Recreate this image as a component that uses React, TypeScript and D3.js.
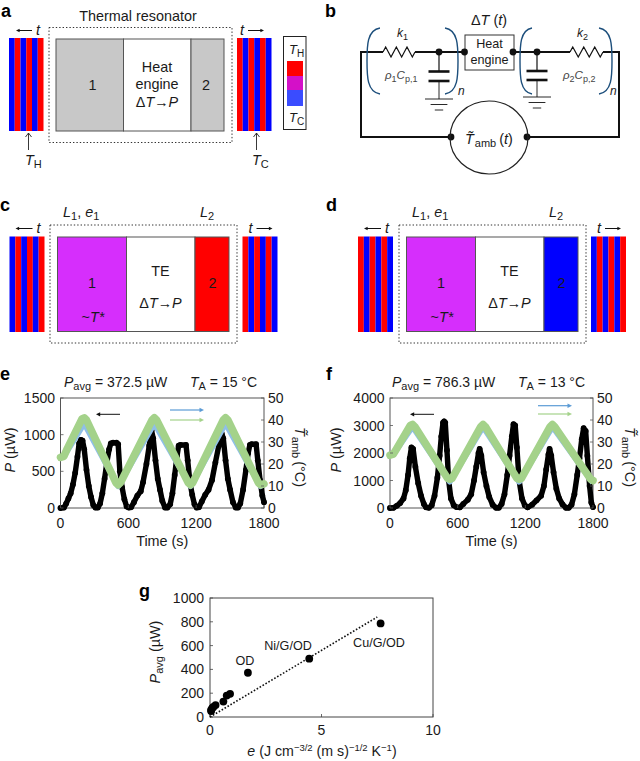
import React from "react";
import * as d3 from "d3";

const FONT = "'Liberation Sans', Arial, sans-serif";
const RED = "#ff0000", BLUE = "#0000ff", MAG = "#d62efc", GREEN = "#a4d28a", SKY = "#8fbfe8", NAVY = "#1d4f7c";

// Panel e
const eTime = [0,30,50,70,90,110,130,150,165,180,195,210,230,250,270,290,310,330,350,370,390,410,430,445,465,495,510,525,545,565,585,605,625,650,680,710,730,760,785,805,820,840,860,880,900,925,945,970,990,1010,1030,1045,1060,1110,1125,1145,1165,1185,1205,1225,1250,1280,1310,1340,1370,1400,1425,1440,1460,1480,1500,1525,1550,1570,1590,1615,1640,1660,1675,1690,1730,1745,1765,1785,1800];
const ePower = [0,5,60,130,200,320,480,700,880,930,920,800,520,300,150,40,5,5,60,200,400,620,800,880,890,890,870,500,280,120,20,5,10,80,170,230,350,600,850,1060,950,650,400,250,100,5,5,50,200,450,700,850,860,860,650,350,180,50,5,10,90,180,250,380,620,850,1020,950,650,400,250,80,5,5,60,250,520,750,860,870,870,650,380,170,80];
const eGreenT = [0,30,60,190,210,230,490,510,530,810,830,850,1130,1150,1170,1440,1460,1480,1750,1770,1800];
const eGreenV = [23,23.5,27,40.5,41,40,11.5,10.5,11.5,40,41,40,11.5,10.5,11.5,40,41,40,11.5,10.5,11];
const eBlueT = [0,30,210,510,830,1150,1460,1770,1800];
const eBlueV = [23,23.5,38.5,10,38.5,10,38.5,10,11];

// Panel f
const fTime = [0,30,60,90,120,140,160,175,190,205,225,250,275,300,320,345,370,395,420,440,455,470,480,490,505,520,540,565,590,620,650,690,720,745,765,785,795,810,830,855,880,910,940,965,990,1015,1040,1060,1080,1095,1110,1125,1145,1170,1195,1220,1260,1300,1340,1365,1385,1405,1415,1430,1450,1475,1500,1530,1560,1585,1610,1635,1660,1680,1700,1717,1735,1750,1770,1785,1800];
const fPower = [0,5,80,180,350,650,1200,1800,2200,2150,1500,900,450,150,20,5,100,450,1100,1900,2600,3100,3150,3100,2100,1000,350,100,30,20,150,300,500,1000,1500,2000,2150,1900,1300,800,400,120,10,10,150,500,1200,1900,2600,3050,3000,2200,1000,350,100,20,120,280,450,800,1400,1950,2150,1900,1300,700,350,130,10,10,120,500,1200,1800,2500,2900,2800,1900,800,200,30];
const fGreenT = [0,30,60,180,200,220,510,530,550,805,825,845,1125,1145,1165,1420,1440,1460,1780,1800];
const fGreenV = [24,24.5,27,37.5,38,37,13.5,13,13.5,37,38,37,13.5,13,13.5,37,38,37,13,12.5];
const fBlueT = [0,30,200,530,825,1145,1440,1800];
const fBlueV = [24,24.5,37,12,37,12,37,11.5];

// Panel g
const gE = [0.05,0.05,0.1,0.15,0.25,0.6,0.75,0.9,1.7,4.45,7.65];
const gP = [50,60,75,85,100,130,180,195,372,490,786];
const gFitE = [0,7.5];
const gFitP = [0,840];
const timeTicks = [0,600,1200,1800];
const eLeftTicks = [0,500,1000,1500];
const fLeftTicks = [0,1000,2000,3000,4000];
const rightTicks = [0,10,20,30,40,50];
const gXTicks = [0,5,10];
const gYTicks = [0,200,400,600,800,1000];

const T = (p: any) => <text fontFamily={FONT} fontSize={14.4} fill="#1a1a1a" {...p} />;
const Letter = ({ x, y, c }: any) => <text x={x} y={y} fontFamily={FONT} fontSize={18} fontWeight="bold" fill="#000">{c}</text>;

function Stripes({ x, y, w, h, first }: any) {
  const s = d3.scaleBand<number>().domain(d3.range(6)).range([x, x + w]);
  const a = first === "red" ? [RED, BLUE] : [BLUE, RED];
  return (
    <g>
      {d3.range(6).map((i) => (
        <rect key={i} x={s(i)} y={y} width={s.bandwidth()} height={h} fill={a[i % 2]} />
      ))}
    </g>
  );
}

function Arrow({ x1, x2, y, color = "#111", w = 1, head = 5 }: any) {
  const d = x2 > x1 ? 1 : -1;
  return (
    <g>
      <line x1={x1} x2={x2 - d * head} y1={y} y2={y} stroke={color} strokeWidth={w} />
      <path d={`M${x2},${y}L${x2 - d * head * 1.4},${y - head * 0.7}L${x2 - d * head * 1.4},${y + head * 0.7}Z`} fill={color} />
    </g>
  );
}

function VArrow({ x, y1, y2 }: any) {
  return (
    <g stroke="#222" strokeWidth={0.9} fill="none">
      <line x1={x} x2={x} y1={y1} y2={y2} />
      <path d={`M${x - 3},${y2 + 4}L${x},${y2}L${x + 3},${y2 + 4}`} />
    </g>
  );
}

function Block({ x0, x1, x2, x3, y0, y1, fa, fb, fc }: any) {
  return (
    <g stroke="#555" strokeWidth={1}>
      <rect x={x0} y={y0} width={x1 - x0} height={y1 - y0} fill={fa} />
      <rect x={x1} y={y0} width={x2 - x1} height={y1 - y0} fill={fb} />
      <rect x={x2} y={y0} width={x3 - x2} height={y1 - y0} fill={fc} />
    </g>
  );
}

const Dotted = ({ x, y, w, h }: any) => (
  <rect x={x} y={y} width={w} height={h} fill="none" stroke="#333" strokeWidth={1} strokeDasharray="1.4 2" />
);

const DeltaTP = (p: any) => (
  <T textAnchor="middle" {...p}>Δ<tspan fontStyle="italic">T</tspan>→<tspan fontStyle="italic">P</tspan></T>
);

function PanelA() {
  return (
    <g>
      <Letter x={1} y={17} c="a" />
      <T x={138} y={21} textAnchor="middle">Thermal resonator</T>
      <Arrow x1={32} x2={16} y={30.5} head={2.6} />
      <T x={36} y={35} fontStyle="italic">t</T>
      <T x={240} y={35} fontStyle="italic">t</T>
      <Arrow x1={248} x2={264} y={30.5} head={2.6} />
      <Stripes x={9} y={38} w={34.5} h={93} first="blue" />
      <Stripes x={237} y={38} w={34.5} h={93} first="red" />
      <Dotted x={49} y={27.5} w={183} h={115} />
      <Block x0={56} x1={123.5} x2={191} x3={224} y0={39} y1={131} fa="#c8c8c8" fb="#fff" fc="#c8c8c8" />
      <T x={92.5} y={90} textAnchor="middle">1</T>
      <T x={157} y={72} textAnchor="middle">Heat</T>
      <T x={157} y={89} textAnchor="middle">engine</T>
      <DeltaTP x={157} y={107} />
      <T x={206} y={90} textAnchor="middle">2</T>
      <VArrow x={28.5} y1={150} y2={133} />
      <VArrow x={256.5} y1={150} y2={133} />
      <T x={25} y={165} fontStyle="italic">T<tspan fontStyle="normal" fontSize={11} dy={3}>H</tspan></T>
      <T x={252} y={165} fontStyle="italic">T<tspan fontStyle="normal" fontSize={11} dy={3}>C</tspan></T>
      <rect x={283.5} y={36.5} width={22.5} height={93} fill="#fff" stroke="#222" strokeWidth={1} />
      <rect x={287} y={61} width={16} height={15} fill={RED} />
      <rect x={287} y={76} width={16} height={14} fill="#d410c8" />
      <rect x={287} y={90} width={16} height={16} fill="#3a4cff" />
      <T x={289} y={54} fontStyle="italic" fontSize={13}>T<tspan fontStyle="normal" fontSize={10} dy={3}>H</tspan></T>
      <T x={289} y={122} fontStyle="italic" fontSize={13}>T<tspan fontStyle="normal" fontSize={10} dy={3}>C</tspan></T>
    </g>
  );
}

function Resistor({ x0, x1, y }: any) {
  const n = 6;
  const s = d3.scaleLinear().domain([0, n]).range([x0, x1]);
  const pts: [number, number][] = [[x0, y]];
  d3.range(n).forEach((i) => pts.push([s(i + 0.5), y + (i % 2 ? 5 : -5)]));
  pts.push([x1, y]);
  return <path d={d3.line()(pts)!} fill="none" stroke="#111" strokeWidth={1.2} />;
}

function Bracket({ x0, xm, y0, y1, flip }: any) {
  const m = (y0 + y1) / 2;
  const ctrl = xm + (flip ? 1 : -1) * 2;
  return (
    <path
      d={`M${x0},${y0}C${ctrl},${y0 + 2} ${ctrl},${m - 15} ${ctrl},${m}C${ctrl},${m + 15} ${ctrl},${y1 - 2} ${x0},${y1}`}
      fill="none" stroke={NAVY} strokeWidth={1.4}
    />
  );
}

function Cap({ x, top, p1, p2, g0, half }: any) {
  return (
    <g stroke="#111">
      <line x1={x} x2={x} y1={top} y2={p1} strokeWidth={1.2} />
      <line x1={x - 10.5} x2={x + 10.5} y1={p1} y2={p1} strokeWidth={2.6} />
      <line x1={x - 10.5} x2={x + 10.5} y1={p2} y2={p2} strokeWidth={2.6} />
      <line x1={x} x2={x} y1={p2} y2={g0} strokeWidth={0.9} />
      <line x1={x - half} x2={x + half} y1={g0} y2={g0} strokeWidth={0.9} />
      <line x1={x - half * 0.6} x2={x + half * 0.6} y1={g0 + 5.5} y2={g0 + 5.5} strokeWidth={0.9} />
      <line x1={x - half * 0.3} x2={x + half * 0.3} y1={g0 + 11} y2={g0 + 11} strokeWidth={0.9} />
    </g>
  );
}

function PanelB() {
  const y = 52;
  return (
    <g>
      <Letter x={325} y={17} c="b" />
      <path d={`M383,${y}H361V137H451`} fill="none" stroke="#111" strokeWidth={2} />
      <path d={`M415,${y}H465`} fill="none" stroke="#111" strokeWidth={2} />
      <path d={`M514,${y}H570`} fill="none" stroke="#111" strokeWidth={2} />
      <path d={`M603,${y}H619V137H527`} fill="none" stroke="#111" strokeWidth={2} />
      <Resistor x0={383} x1={415} y={y} />
      <Resistor x0={570} x1={603} y={y} />
      <Cap x={439} top={y} p1={71.5} p2={81} g0={99} half={14} />
      <Cap x={537} top={y} p1={71} p2={80} g0={97} half={14} />
      <rect x={465} y={35} width={49} height={35} fill="#fff" stroke="#333" strokeWidth={1} />
      <T x={489.5} y={48} textAnchor="middle" fontSize={12.6}>Heat</T>
      <T x={489.5} y={64} textAnchor="middle" fontSize={12.6}>engine</T>
      {[[439, y], [464.5, y], [513, y], [537, y], [451, 137], [527, 137]].map(([a, b], i) => (
        <circle key={i} cx={a} cy={b} r={3.4} fill="#111" />
      ))}
      <ellipse cx={489} cy={137.5} rx={39} ry={36.5} fill="none" stroke="#222" strokeWidth={1.2} />
      <Bracket x0={380} xm={369} y0={28} y1={94} />
      <Bracket x0={445} xm={456} y0={28} y1={94} flip />
      <Bracket x0={532} xm={522} y0={28} y1={94} />
      <Bracket x0={599} xm={610} y0={28} y1={94} flip />
      <T x={489} y={25} textAnchor="middle">Δ<tspan fontStyle="italic">T</tspan> (<tspan fontStyle="italic">t</tspan>)</T>
      <T x={397} y={37} fontStyle="italic" fontSize={12}>k<tspan fontStyle="normal" fontSize={9} dy={3}>1</tspan></T>
      <T x={577} y={37} fontStyle="italic" fontSize={12}>k<tspan fontStyle="normal" fontSize={9} dy={3}>2</tspan></T>
      <T x={385} y={79} fontStyle="italic" fontSize={11.5} fill="#444">ρ<tspan fontStyle="normal" fontSize={9} dy={3}>1</tspan><tspan dy={-3}>C</tspan><tspan fontStyle="normal" fontSize={9} dy={3}>p,1</tspan></T>
      <T x={563} y={79} fontStyle="italic" fontSize={11.5} fill="#444">ρ<tspan fontStyle="normal" fontSize={9} dy={3}>2</tspan><tspan dy={-3}>C</tspan><tspan fontStyle="normal" fontSize={9} dy={3}>p,2</tspan></T>
      <T x={458} y={95} fontStyle="italic" fontSize={12}>n</T>
      <T x={610} y={95} fontStyle="italic" fontSize={12}>n</T>
      <T x={465} y={144} fontStyle="italic" fontSize={14.4}>T̃<tspan fontStyle="normal" fontSize={11} dx={1} dy={3}>amb</tspan><tspan fontStyle="normal" dx={3} dy={-3}>(</tspan><tspan>t</tspan><tspan fontStyle="normal">)</tspan></T>
    </g>
  );
}

function TEPanel({ ox, letter, lx, fc, firstL, firstR, stripeL, stripeR }: any) {
  const sy = 236.5, sh = 95.5;
  return (
    <g>
      <Letter x={letter} y={211} c={lx} />
      <T x={ox + 63} y={217} fontStyle="italic">L<tspan fontStyle="normal" fontSize={11} dy={3}>1</tspan><tspan fontStyle="normal" dy={-3}>, </tspan>e<tspan fontStyle="normal" fontSize={11} dy={3}>1</tspan></T>
      <T x={ox + 200} y={217} fontStyle="italic">L<tspan fontStyle="normal" fontSize={11} dy={3}>2</tspan></T>
      <Arrow x1={stripeL + 23} x2={stripeL + 6} y={228.5} head={2.6} />
      <T x={stripeL + 27} y={233} fontStyle="italic">t</T>
      <T x={stripeR + 6} y={233} fontStyle="italic">t</T>
      <Arrow x1={stripeR + 14} x2={stripeR + 30} y={228.5} head={2.6} />
      <Stripes x={stripeL} y={sy} w={35} h={sh} first={firstL} />
      <Stripes x={stripeR} y={sy} w={35} h={sh} first={firstR} />
      <Dotted x={ox + 50} y={225} w={187} h={118} />
      <Block x0={ox + 57.5} x1={ox + 126.5} x2={ox + 195} x3={ox + 229} y0={237} y1={331.5} fa={MAG} fb="#fff" fc={fc} />
      <T x={ox + 92} y={288} textAnchor="middle">1</T>
      <T x={ox + 93} y={322} textAnchor="middle">~<tspan fontStyle="italic">T*</tspan></T>
      <T x={ox + 160.5} y={276} textAnchor="middle">TE</T>
      <DeltaTP x={ox + 160.5} y={308} />
      <T x={ox + 212.5} y={288} textAnchor="middle">2</T>
    </g>
  );
}

function TimePanel({ x0, x1, time, power, pMax, leftTicks, gT, gV, bT, bV, letterX, titleX, avg, ta, blackArrow, flowX, flowY, labelX, rightLabelX }: any) {
  const y0 = 508, y1 = 398;
  const x = d3.scaleLinear().domain([0, 1800]).range([x0, x1]);
  const yL = d3.scaleLinear().domain([0, pMax]).range([y0, y1]);
  const yR = d3.scaleLinear().domain([0, 50]).range([y0, y1]);
  const pts: [number, number][] = time.map((t: number, i: number) => [x(t), yL(power[i])]);
  const ln = d3.line();
  const gp: [number, number][] = gT.map((t: number, i: number) => [x(t), yR(gV[i])]);
  const bp: [number, number][] = bT.map((t: number, i: number) => [x(t), yR(bV[i])]);
  return (
    <g>
      <Letter x={letterX} y={380} c={avg.letter} />
      <T x={titleX} y={387} fontSize={14} fontStyle="italic">P<tspan fontStyle="normal" fontSize={11} dy={3}>avg</tspan><tspan fontStyle="normal" dy={-3}> = {avg.text} µW</tspan></T>
      <T x={titleX + ta.dx} y={387} fontSize={14} fontStyle="italic">T<tspan fontStyle="normal" fontSize={11} dy={3}>A</tspan><tspan fontStyle="normal" dy={-3}> = {ta.text} °C</tspan></T>
      <rect x={x0} y={y1} width={x1 - x0} height={y0 - y1} fill="#fff" stroke="#555" strokeWidth={1} />
      <path d={ln(pts)!} fill="none" stroke="#000" strokeWidth={5.4} strokeLinejoin="round" strokeLinecap="round" />
      {pts.map((p, i) => <circle key={i} cx={p[0]} cy={p[1]} r={2.9} fill="#000" />)}
      <path d={ln(bp)!} fill="none" stroke={SKY} strokeWidth={6} strokeLinejoin="round" />
      <path d={ln(gp)!} fill="none" stroke={GREEN} strokeWidth={7.6} strokeLinejoin="round" strokeLinecap="round" />
      <Arrow x1={blackArrow + 24} x2={blackArrow} y={414.3} head={3} />
      <Arrow x1={flowX} x2={flowX + 34} y={flowY[0]} color="#5b9bd5" w={1.2} head={3.2} />
      <Arrow x1={flowX} x2={flowX + 34} y={flowY[1]} color={GREEN} w={1.2} head={3.2} />
      {leftTicks.map((t: number) => (
        <g key={t}>
          <line x1={x0} x2={x0 + 3} y1={yL(t)} y2={yL(t)} stroke="#555" strokeWidth={0.8} />
          <T x={x0 - 5.5} y={yL(t) + 5} textAnchor="end" fontSize={14}>{t}</T>
        </g>
      ))}
      {rightTicks.map((t) => (
        <g key={t}>
          <line x1={x1 - 3} x2={x1} y1={yR(t)} y2={yR(t)} stroke="#555" strokeWidth={0.8} />
          <T x={x1 + 4} y={yR(t) + 5} fontSize={14}>{t}</T>
        </g>
      ))}
      {timeTicks.map((t) => (
        <g key={t}>
          <line x1={x(t)} x2={x(t)} y1={y0} y2={y0 - 3} stroke="#555" strokeWidth={0.8} />
          <T x={x(t)} y={528} textAnchor="middle" fontSize={14}>{t}</T>
        </g>
      ))}
      <T x={(x0 + x1) / 2} y={546} textAnchor="middle">Time (s)</T>
      <T transform={`translate(${labelX},450) rotate(-90)`} textAnchor="middle"><tspan fontStyle="italic">P</tspan> (µW)</T>
      <T transform={`translate(${rightLabelX},457) rotate(90)`} textAnchor="middle"><tspan fontStyle="italic">T̃</tspan><tspan fontSize={11} dx={1} dy={3}>amb</tspan><tspan dx={3} dy={-3}>(°C)</tspan></T>
    </g>
  );
}

function PanelG() {
  const x = d3.scaleLinear().domain([0, 10]).range([210, 433]);
  const y = d3.scaleLinear().domain([0, 1000]).range([717, 598]);
  const fit = d3.line()(gFitE.map((e, i) => [x(e), y(gFitP[i])] as [number, number]))!;
  return (
    <g>
      <Letter x={139} y={597} c="g" />
      <rect x={210} y={598} width={223} height={119} fill="#fff" stroke="#444" strokeWidth={1} />
      {gYTicks.map((t) => (
        <g key={t}>
          <line x1={210} x2={213} y1={y(t)} y2={y(t)} stroke="#444" strokeWidth={0.8} />
          <T x={204} y={y(t) + 5} textAnchor="end" fontSize={14}>{t}</T>
        </g>
      ))}
      {gXTicks.map((t) => (
        <g key={t}>
          <line x1={x(t)} x2={x(t)} y1={717} y2={714} stroke="#444" strokeWidth={0.8} />
          <T x={x(t)} y={735} textAnchor="middle" fontSize={14}>{t}</T>
        </g>
      ))}
      <path d={fit} fill="none" stroke="#111" strokeWidth={1.6} strokeDasharray="1.6 1.8" />
      {gE.map((e, i) => <circle key={i} cx={x(e)} cy={y(gP[i])} r={3.9} fill="#000" />)}
      <T x={245} y={665} fontSize={12.6} textAnchor="middle">OD</T>
      <T x={288} y={650} fontSize={12.6} textAnchor="middle">Ni/G/OD</T>
      <T x={379} y={647} fontSize={12.6} textAnchor="middle">Cu/G/OD</T>
      <T transform="translate(160,652) rotate(-90)" textAnchor="middle"><tspan fontStyle="italic">P</tspan><tspan fontSize={11} dy={3}>avg</tspan><tspan dy={-3}> (µW)</tspan></T>
      <T x={322} y={756} textAnchor="middle" fontSize={14.2}><tspan fontStyle="italic">e</tspan> (J cm<tspan fontSize={9.5} dy={-5}>−3/2</tspan><tspan dy={5}> (m s)</tspan><tspan fontSize={9.5} dy={-5}>−1/2</tspan><tspan dy={5}> K</tspan><tspan fontSize={9.5} dy={-5}>−1</tspan><tspan dy={5}>)</tspan></T>
    </g>
  );
}

export default function App() {
  return (
    <svg width={640} height={761} viewBox="0 0 640 761" style={{ position: "absolute", left: 0, top: 0, background: "#fff" }}>
      <PanelA />
      <PanelB />
      <TEPanel ox={0} letter={0} lx="c" fc={RED} firstL="blue" firstR="red" stripeL={9.5} stripeR={242.5} />
      <TEPanel ox={349} letter={326} lx="d" fc={BLUE} firstL="red" firstR="blue" stripeL={358} stripeR={591} />
      <TimePanel x0={60.5} x1={264} time={eTime} power={ePower} pMax={1500} leftTicks={eLeftTicks}
        gT={eGreenT} gV={eGreenV} bT={eBlueT} bV={eBlueV} letterX={0} titleX={64}
        avg={{ letter: "e", text: "372.5" }} ta={{ text: "15", dx: 126 }} blackArrow={96}
        flowX={170} flowY={[410, 420]} labelX={15} rightLabelX={295} />
      <TimePanel x0={390} x1={593} time={fTime} power={fPower} pMax={4000} leftTicks={fLeftTicks}
        gT={fGreenT} gV={fGreenV} bT={fBlueT} bV={fBlueV} letterX={326} titleX={392}
        avg={{ letter: "f", text: "786.3" }} ta={{ text: "13", dx: 126 }} blackArrow={410}
        flowX={538} flowY={[405.7, 414]} labelX={341} rightLabelX={625} />
      <PanelG />
    </svg>
  );
}
